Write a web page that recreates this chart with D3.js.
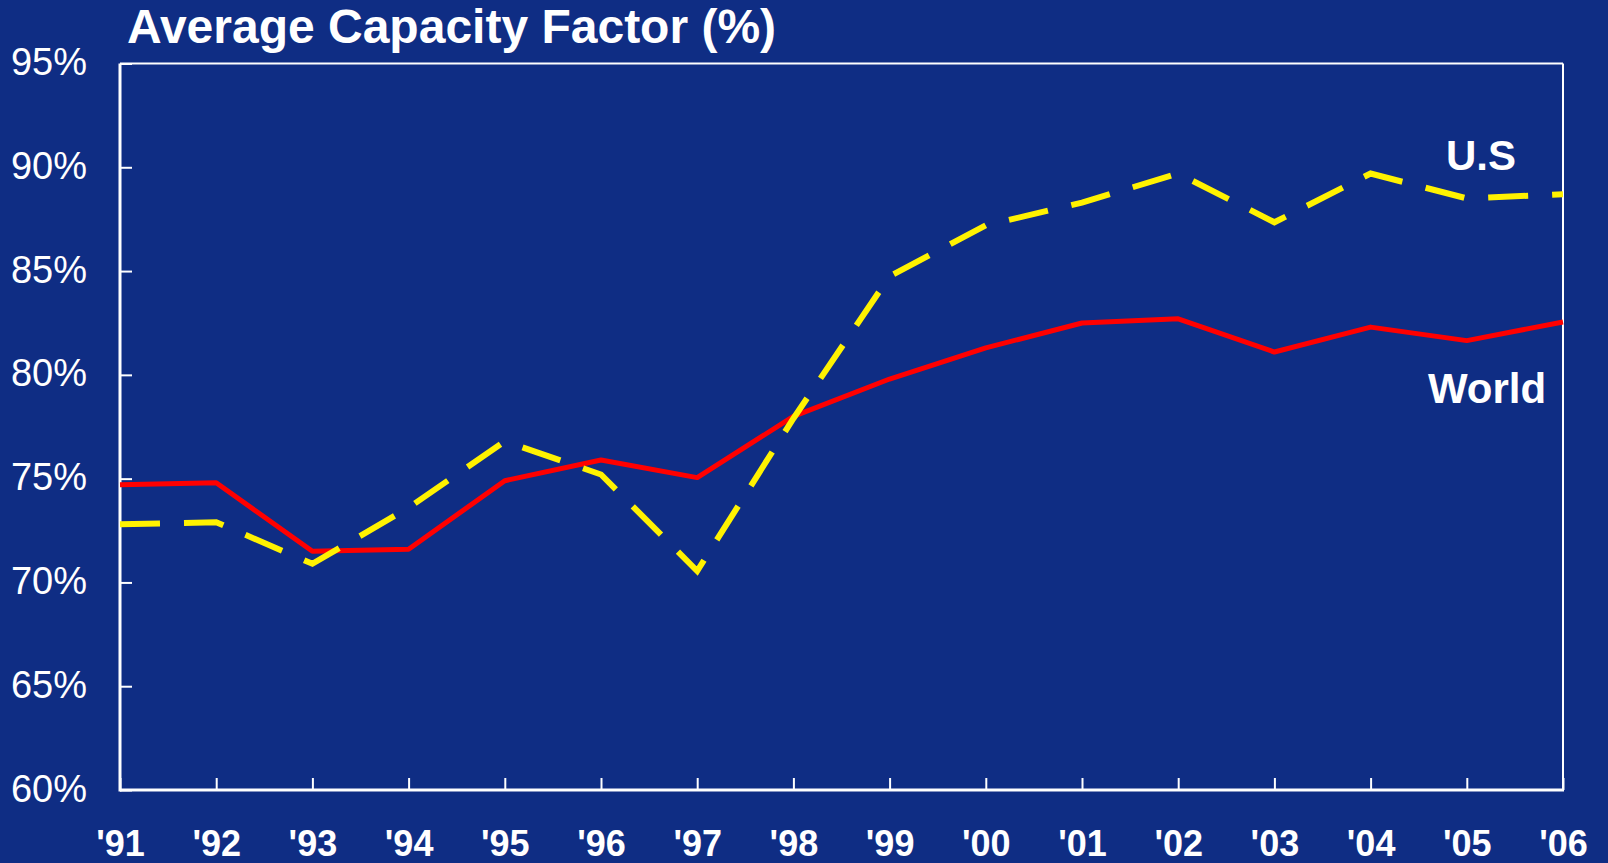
<!DOCTYPE html>
<html>
<head>
<meta charset="utf-8">
<script src="https://cdn.jsdelivr.net/npm/d3@7"></script>
<style>
  html, body { margin: 0; padding: 0; background: #0f2d84; }
  svg { display: block; }
  text { font-family: "Liberation Sans", Arial, sans-serif; fill: #fff; }
</style>
</head>
<body>
<div id="chart"></div>
<script>
// years on the x axis
var years = [1991, 1992, 1993, 1994, 1995, 1996, 1997, 1998, 1999, 2000, 2001, 2002, 2003, 2004, 2005, 2006];
var yearLabels = ["'91", "'92", "'93", "'94", "'95", "'96", "'97", "'98", "'99", "'00", "'01", "'02", "'03", "'04", "'05", "'06"];
// average capacity factor, %
var worldValues = [74.7, 74.8, 71.5, 71.6, 74.9, 75.9, 75.05, 78.0, 79.8, 81.3, 82.5, 82.7, 81.1, 82.3, 81.65, 82.55];
var usValues = [72.8, 72.9, 70.9, 73.6, 76.8, 75.2, 70.55, 77.9, 84.75, 87.2, 88.3, 89.7, 87.35, 89.7, 88.5, 88.7];
var yTicks = [60, 65, 70, 75, 80, 85, 90, 95];

var width = 1608, height = 863;
var plotLeft = 120, plotRight = 1563, plotTop = 63.5, plotBottom = 790;

var svg = d3.select("#chart").append("svg")
    .attr("width", width)
    .attr("height", height);

var x = d3.scaleLinear().domain([1991, 2006]).range([plotLeft, plotRight]);
var y = d3.scaleLinear().domain([60, 95]).range([plotBottom, plotTop]);

// title
svg.append("text")
  .attr("x", 127)
  .attr("y", 43)
  .attr("font-size", "48px")
  .attr("font-weight", "bold")
  .text("Average Capacity Factor (%)");

// y axis, ticks pointing inward
var yAxis = svg.append("g")
  .attr("transform", "translate(" + plotLeft + ",0)")
  .call(d3.axisLeft(y).tickValues(yTicks).tickSizeInner(-12).tickSizeOuter(0)
    .tickFormat(function(d){ return d + "%"; }));
yAxis.select(".domain").remove();
yAxis.selectAll("line").attr("stroke", "#fff").attr("stroke-width", 2);
yAxis.selectAll("text")
  .attr("x", -33)
  .attr("dy", "0.29em")
  .attr("font-size", "38px")
  .attr("font-family", "'Liberation Sans', Arial, sans-serif")
  .attr("fill", "#fff");

// x axis
var xAxis = svg.append("g")
  .attr("transform", "translate(0," + plotBottom + ")")
  .call(d3.axisBottom(x).tickValues(years).tickSizeInner(-12).tickSizeOuter(0)
    .tickFormat(function(d, i){ return yearLabels[i]; }));
xAxis.select(".domain").remove();
xAxis.selectAll("line").attr("stroke", "#fff").attr("stroke-width", 2);
xAxis.selectAll("text")
  .attr("y", 66)
  .attr("dy", 0)
  .attr("font-size", "36px")
  .attr("font-weight", "bold")
  .attr("font-family", "'Liberation Sans', Arial, sans-serif")
  .attr("fill", "#fff");

// frame
svg.append("line").attr("x1", plotLeft).attr("x2", plotRight).attr("y1", plotTop).attr("y2", plotTop)
  .attr("stroke", "#fff").attr("stroke-width", 2);
svg.append("line").attr("x1", plotRight).attr("x2", plotRight).attr("y1", plotTop).attr("y2", plotBottom)
  .attr("stroke", "#fff").attr("stroke-width", 2);
svg.append("line").attr("x1", plotLeft).attr("x2", plotLeft).attr("y1", plotTop).attr("y2", plotBottom + 1.5)
  .attr("stroke", "#fff").attr("stroke-width", 3);
svg.append("line").attr("x1", plotLeft).attr("x2", plotRight + 1).attr("y1", plotBottom).attr("y2", plotBottom)
  .attr("stroke", "#fff").attr("stroke-width", 3);

var line = d3.line()
  .x(function(d, i){ return x(years[i]); })
  .y(function(d){ return y(d); });

svg.append("path")
  .datum(worldValues)
  .attr("d", line)
  .attr("fill", "none")
  .attr("stroke", "#ff0000")
  .attr("stroke-width", 5)
  .attr("stroke-linejoin", "round");

svg.append("path")
  .datum(usValues)
  .attr("d", line)
  .attr("fill", "none")
  .attr("stroke", "#fff200")
  .attr("stroke-width", 6)
  .attr("stroke-dasharray", "40,24");

// series labels
svg.append("text")
  .attr("x", 1481)
  .attr("y", 170)
  .attr("text-anchor", "middle")
  .attr("font-size", "42px")
  .attr("font-weight", "bold")
  .text("U.S");

svg.append("text")
  .attr("x", 1487)
  .attr("y", 403)
  .attr("text-anchor", "middle")
  .attr("font-size", "42px")
  .attr("font-weight", "bold")
  .text("World");
</script>
</body>
</html>
